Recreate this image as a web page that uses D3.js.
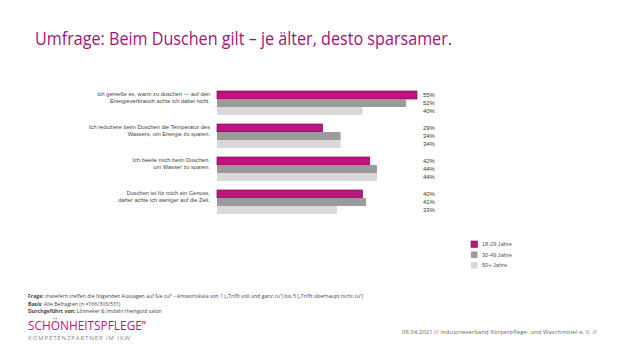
<!DOCTYPE html>
<html>
<head>
<meta charset="utf-8">
<script src="https://cdn.jsdelivr.net/npm/d3@7"></script>
<style>
  body { margin: 0; background: #fff; }
  svg { display: block; font-family: "Liberation Sans", Arial, sans-serif; }
</style>
</head>
<body>
<div id="chart"></div>
<script>
    // statements (two lines each)
    var statements = [
        ["Ich genieße es, warm zu duschen \u2014 auf den", "Energieverbrauch achte ich dabei nicht."],
        ["Ich reduziere beim Duschen die Temperatur des", "Wassers, um Energie zu sparen."],
        ["Ich beeile mich beim Duschen,", "um Wasser zu sparen."],
        ["Duschen ist für mich ein Genuss,", "daher achte ich weniger auf die Zeit."]
    ];
    var ageGroups = ["18-29 Jahre", "30-49 Jahre", "50+ Jahre"];
    var young = [55, 29, 42, 40];
    var middle = [52, 34, 44, 41];
    var old = [40, 34, 44, 33];

    function init() {
        var w = 623;
        var h = 350;
        var colors = ["#c0137f", "#9b9b9b", "#d9d9d9"];
        var series = [young, middle, old];

        var svg = d3.select("#chart")
            .append("svg")
            .attr("width", w)
            .attr("height", h);

        // title
        svg.append("text")
            .attr("x", 35)
            .attr("y", 45)
            .attr("fill", "#a3127a")
            .attr("font-family", "'Open Sans', sans-serif")
            .attr("font-size", 19)
            .attr("textLength", 417)
            .attr("lengthAdjust", "spacingAndGlyphs")
            .text("Umfrage: Beim Duschen gilt \u2013 je älter, desto sparsamer.");

        // scales
        var xScale = d3.scaleLinear()
            .domain([0, 55])
            .range([217, 417]);

        var yScale = d3.scaleBand()
            .domain(d3.range(statements.length))
            .range([91, 214])
            .paddingInner(0.273)
            .paddingOuter(0);

        var ySub = d3.scaleBand()
            .domain(d3.range(ageGroups.length))
            .range([0, yScale.bandwidth()]);

        var groups = svg.selectAll(".group")
            .data(statements)
            .enter()
            .append("g")
            .attr("class", "group")
            .attr("transform", function(d, i) { return "translate(0," + yScale(i) + ")"; });

        // labels, bars, values
        groups.each(function(d, i) {
            var g = d3.select(this);
            d.forEach(function(line, j) {
                g.append("text")
                    .attr("x", 210)
                    .attr("y", 4.5 + j * 7.2)
                    .attr("text-anchor", "end")
                    .attr("font-size", 5.7)
                    .attr("fill", "#444")
                    .text(line);
            });
            series.forEach(function(s, k) {
                g.append("rect")
                    .attr("x", xScale(0))
                    .attr("y", ySub(k))
                    .attr("width", xScale(s[i]) - xScale(0))
                    .attr("height", ySub.bandwidth())
                    .attr("fill", colors[k])
                    .attr("stroke", k === 0 ? "#7d0c52" : "none")
                    .attr("stroke-width", 0.7);
                g.append("text")
                    .attr("x", 423)
                    .attr("y", ySub(k) + ySub.bandwidth() / 2 + 2)
                    .attr("font-size", 5.9)
                    .attr("fill", "#333")
                    .text(s[i] + "%");
            });
        });

        // legend
        var legend = svg.selectAll(".legend")
            .data(ageGroups)
            .enter()
            .append("g")
            .attr("class", "legend")
            .attr("transform", function(d, i) { return "translate(471," + (241 + i * 10.5) + ")"; });

        legend.append("rect")
            .attr("width", 6.5)
            .attr("height", 6.5)
            .attr("fill", function(d, i) { return colors[i]; })
            .attr("stroke", function(d, i) { return i === 0 ? "#7d0c52" : "none"; })
            .attr("stroke-width", 0.6);

        legend.append("text")
            .attr("x", 11)
            .attr("y", 5.4)
            .attr("font-size", 5.6)
            .attr("fill", "#555")
            .text(function(d) { return d; });

        // footnotes
        var notes = [
            ["Frage:", " Inwiefern treffen die folgenden Aussagen auf Sie zu? \u2013 Antwortskala von 1 (\u201eTrifft voll und ganz zu\u201c) bis  5 (\u201eTrifft überhaupt nicht zu\u201c)"],
            ["Basis", ": Alle Befragten (n =166/303/531)"],
            ["Durchgeführt von:", " Lönneker & Imdahl rheingold salon"]
        ];
        notes.forEach(function(n, i) {
            var t = svg.append("text")
                .attr("x", 28)
                .attr("y", 298 + i * 7.7)
                .attr("font-family", "'Open Sans', sans-serif")
                .attr("font-size", 5.2)
                .attr("fill", "#444");
            t.append("tspan").attr("font-weight", "bold").text(n[0]);
            t.append("tspan").text(n[1]);
        });

        // logo
        svg.append("text")
            .attr("x", 28)
            .attr("y", 330)
            .attr("font-family", "'Open Sans', sans-serif")
            .attr("font-size", 12)
            .attr("fill", "#c0137f")
            .attr("textLength", 118)
            .attr("lengthAdjust", "spacingAndGlyphs")
            .text("SCHÖNHEITSPFLEGE\u201d");

        svg.append("text")
            .attr("x", 28)
            .attr("y", 340)
            .attr("font-family", "'Open Sans', sans-serif")
            .attr("font-size", 6)
            .attr("fill", "#888")
            .attr("textLength", 102)
            .attr("lengthAdjust", "spacing")
            .text("KOMPETENZPARTNER IM IKW");

        // footer
        var foot = svg.append("text")
            .attr("x", 402)
            .attr("y", 334)
            .attr("font-family", "'Open Sans', sans-serif")
            .attr("font-size", 5.8)
            .attr("fill", "#666")
            .attr("textLength", 195)
            .attr("lengthAdjust", "spacing");
        foot.append("tspan").text("08.04.2021  ");
        foot.append("tspan").attr("fill", "#c0137f").text("//");
        foot.append("tspan").text("  Industrieverband Körperpflege- und Waschmittel e. V.  ");
        foot.append("tspan").attr("fill", "#c0137f").text("//");
    }

    init();
</script>
</body>
</html>
